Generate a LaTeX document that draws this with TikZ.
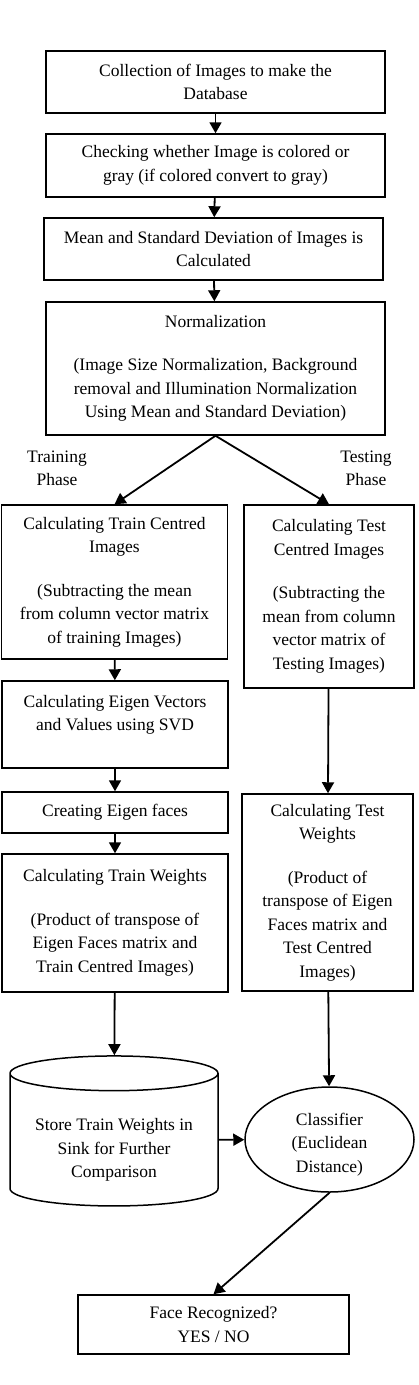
\documentclass[tikz,border=0pt]{standalone}
\usepackage{fontspec}
\setmainfont{Liberation Serif}
\usetikzlibrary{arrows.meta,shapes.geometric}

\begin{document}
\begin{tikzpicture}[x=1pt, y=-1pt,
        box/.style={draw, line width=1.5pt, align=center, inner sep=0pt, font=\fontsize{17.5}{23.5}\selectfont},
        store/.style={draw, line width=1.5pt, align=center, inner sep=0pt, cylinder, shape border rotate=90, aspect=0.22, font=\fontsize{17.5}{23.5}\selectfont},
        decide/.style={draw, line width=1.5pt, align=center, inner sep=0pt, ellipse, font=\fontsize{17.5}{23.5}\selectfont},
        phase/.style={align=center, inner sep=0pt, font=\fontsize{17.5}{23.5}\selectfont},
        flow/.style={-{Triangle[length=11pt,width=12pt]}, line width=1.8pt}
      ]
      \useasboundingbox (0,0) rectangle (419,1385);

      % Database preparation
      \node[box, minimum width=339, minimum height=62] (collect) at (215.5, 82) {Collection of Images to make the\\Database};
      \node[box, minimum width=339, minimum height=63] (check) at (215.5, 165.5) {Checking whether Image is colored or\\gray (if colored convert to gray)};
      \node[box, minimum width=339, minimum height=62] (meanstd) at (213.5, 249) {Mean and Standard Deviation of Images is\\Calculated};
      \node[box, minimum width=339, minimum height=133] (norm) at (215.5, 368.5) {Normalization\\[20pt](Image Size Normalization, Background\\removal and Illumination Normalization\\Using Mean and Standard Deviation)};
      \draw[flow] (collect) -- (check);
      \draw[flow] (check) -- (meanstd);
      \draw[flow] (meanstd) -- (norm);

      % Phase labels
      \node[phase] (trainlbl) at (57, 468.5) {Training\\Phase};
      \node[phase] (testlbl) at (366, 468.5) {Testing\\Phase};

      % Training branch
      \node[box, minimum width=226, minimum height=154] (traincen) at (114.5, 582) {Calculating Train Centred\\Images\\[20pt](Subtracting the mean\\from column vector matrix\\of training Images)};
      \node[box, minimum width=226, minimum height=87] (eigvec) at (115, 724.5) {Calculating Eigen Vectors\\and Values using SVD\\ };
      \node[box, minimum width=226, minimum height=41] (eigface) at (115, 812.5) {Creating Eigen faces};
      \node[box, minimum width=226, minimum height=138] (trainw) at (115, 923) {Calculating Train Weights\\[20pt](Product of transpose of\\Eigen Faces matrix and\\Train Centred Images)};
      \node[store, minimum width=208, minimum height=150, text height=79pt] (sink) at (114, 1140) {Store Train Weights in\\Sink for Further\\Comparison};
      \draw[flow] (norm.south) -- (traincen.north);
      \draw[flow] (traincen) -- (eigvec);
      \draw[flow] (eigvec) -- (eigface);
      \draw[flow] (eigface) -- (trainw);
      \draw[flow] (trainw) -- (sink);

      % Testing branch
      \node[box, minimum width=170, minimum height=183] (testcen) at (329, 596.5) {Calculating Test\\Centred Images\\[20pt](Subtracting the\\mean from column\\vector matrix of\\Testing Images)};
      \node[box, minimum width=171, minimum height=197] (testw) at (327.5, 892.5) {Calculating Test\\Weights\\[20pt](Product of\\transpose of Eigen\\Faces matrix and\\Test Centred\\Images)};
      \node[decide, minimum width=169, minimum height=105, text height=69pt] (classify) at (329.5, 1139.5) {Classifier\\(Euclidean\\Distance)};
      \draw[flow] (norm.south) -- (testcen.north);
      \draw[flow] (testcen) -- (testw);
      \draw[flow] (testw) -- (classify);
      \draw[flow] (sink) -- (classify);

      % Result
      \node[box, minimum width=271, minimum height=59] (result) at (213.5, 1324.5) {Face Recognized?\\YES / NO};
      \draw[flow] (classify.south) -- (result.north);

    \end{tikzpicture}
\end{document}
